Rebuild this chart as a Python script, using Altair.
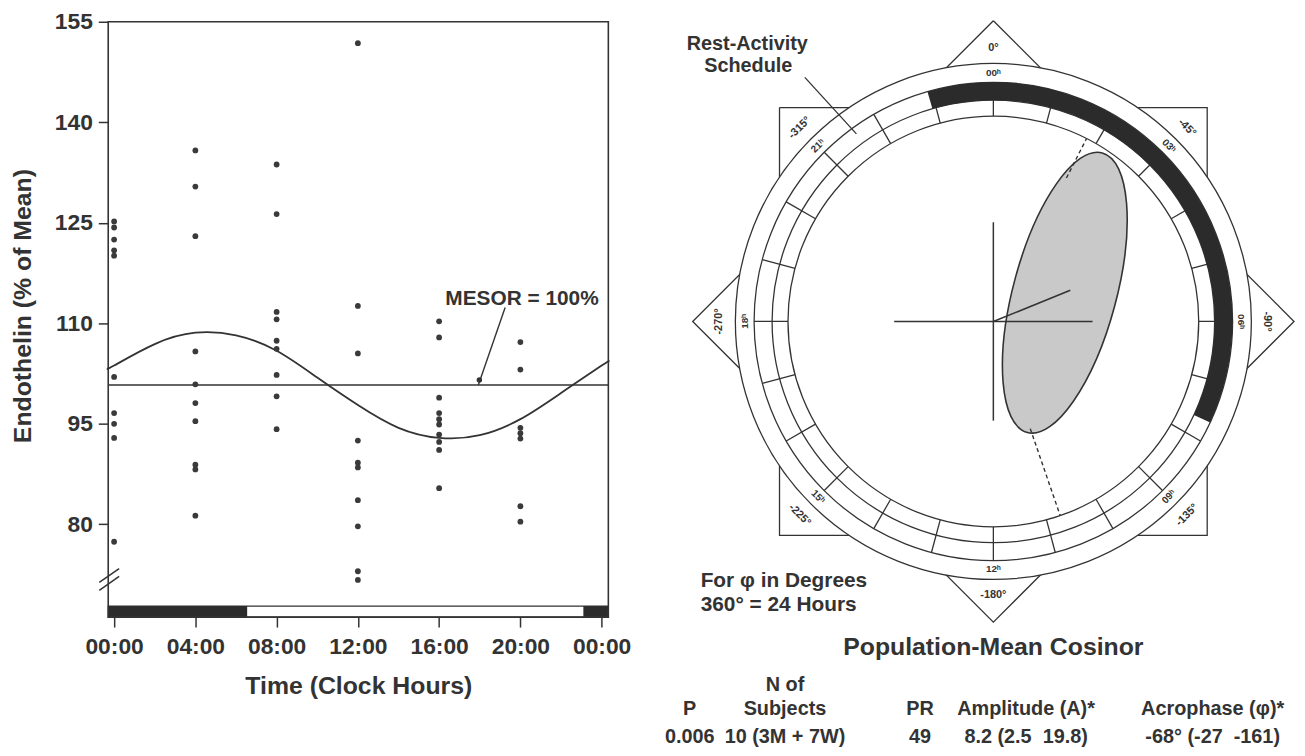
import math
import altair as alt
import pandas as pd

FONT = "Liberation Sans"
INK = "#333333"
DOT = "#3a3a3a"

# ---------------- Left panel data ----------------
SAMPLE_HOURS = [0, 4, 8, 12, 16, 20]
VALUES_0000 = [125.2, 124.3, 122.5, 120.9, 120.1, 102.0, 96.6, 95.0, 92.9, 77.4]
VALUES_0400 = [135.8, 130.4, 123.0, 105.8, 100.9, 98.1, 95.4, 88.9, 88.2, 81.3]
VALUES_0800 = [133.7, 126.3, 111.7, 110.6, 107.4, 106.2, 102.3, 99.1, 94.2]
VALUES_1200 = [151.8, 112.6, 105.5, 92.5, 89.2, 88.5, 83.6, 79.7, 73.0, 71.7]
VALUES_1600 = [110.3, 107.9, 98.9, 96.6, 95.7, 94.9, 93.4, 92.3, 91.1, 85.4]
VALUES_2000 = [107.2, 103.1, 94.4, 93.6, 92.8, 82.7, 80.4]

FIT_HOURS = [-0.29, 0, 2, 4, 6, 8, 10, 12, 14, 16, 18, 20, 22, 24, 24.33]
FIT_VALUES = [103.3, 103.7, 106.9, 108.6, 108.2, 105.9, 101.9, 97.8, 94.4,
              92.9, 93.3, 95.7, 99.6, 103.7, 104.3]
MESOR_VALUE = 100.8

REST_START_H = [-0.29, 23.1]
REST_END_H = [6.55, 24.33]

X_TICKS = [0, 4, 8, 12, 16, 20, 24]
Y_TICKS = [80, 95, 110, 125, 140, 155]

# ---------------- Right panel data ----------------
AMPLITUDE = 8.2
ACROPHASE_DEG = -68
ACRO_CI_DEG = [-27, -161]
ACRO_CI_START_R = [15.9, 11.2]
CROSS_ARM = 9.8
RING_R = [20.29, 21.86, 23.63, 25.49]
REST_ARC_DEG = [-16, 115]
ELLIPSE_CENTER = [7.06, 2.84]
ELLIPSE_SEMI = [14.3, 5.1]
ELLIPSE_TILT_DEG = 15

COMPASS_DEG = [0, 45, 90, 135, 180, 225, 270, 315]
DEG_LABELS = ["0°", "-45°", "-90°", "-135°", "-180°", "-225°", "-270°", "-315°"]
HOUR_LABELS = ["00ʰ", "03ʰ", "06ʰ", "09ʰ", "12ʰ", "15ʰ", "18ʰ", "21ʰ"]

NB = "\u00a0"
TABLE_TOP = ["", "N of", "", "", ""]
TABLE_HEAD = ["P", "Subjects", "PR", "Amplitude (A)*", "Acrophase (φ)*"]
TABLE_ROW = ["0.006", "10 (3M + 7W)", "49", f"8.2 (2.5{NB}{NB}19.8)", f"-68° (-27{NB}{NB}-161)"]

# ---------------- Layout constants (pixels) ----------------
LV_X0, LV_Y0, LW, LH = 108, 20, 504, 600
X_DOMAIN = [-0.29, 24.33]
Y_DOMAIN = [66.15, 155]
BAR_TOP = 67.81

K = 10.2                      # px per amplitude unit in the cosinor
CX, CY = 1000, 322            # page position of cosinor origin
RV_X0, RV_Y0, RW, RH = 682, 20, 620, 720
SPACING = RV_X0 - (LV_X0 + LW)
DIAMOND = 303 / K
SQUARE = 215.5 / K
R_DEG_LABEL = 276 / K
R_HOUR_LABEL = 250 / K


def lpos(px, py):
    return px - LV_X0, py - LV_Y0


def rpos(px, py):
    return px - RV_X0, py - RV_Y0


def polar(r, deg):
    a = math.radians(deg)
    return r * math.sin(a), r * math.cos(a)


# ====================== LEFT PANEL ======================
pts = []
for h, vals in zip(SAMPLE_HOURS, [VALUES_0000, VALUES_0400, VALUES_0800,
                                  VALUES_1200, VALUES_1600, VALUES_2000]):
    pts += [{"hour": h, "val": v} for v in vals]
pts = pd.DataFrame(pts)
fit = pd.DataFrame({"hour": FIT_HOURS, "val": FIT_VALUES})

xs = alt.Scale(domain=X_DOMAIN, nice=False, zero=False)
ys = alt.Scale(domain=Y_DOMAIN, nice=False, zero=False)
x_axis = alt.Axis(values=X_TICKS, title="Time (Clock Hours)", domain=False, grid=False,
                  labelExpr="(datum.value % 24 < 10 ? '0' : '') + (datum.value % 24) + ':00'",
                  tickSize=10, tickWidth=1.5, tickColor=INK, labelFont=FONT,
                  labelFontSize=23, labelFontWeight="bold", labelColor=INK,
                  labelPadding=9, labelFlush=False, labelOverlap=False,
                  titleFont=FONT, titleFontSize=25, titleFontWeight="bold",
                  titleColor=INK, titlePadding=15)
y_axis = alt.Axis(values=Y_TICKS, title="Endothelin (% of Mean)", domain=False, grid=False,
                  tickSize=10, tickWidth=1.5, tickColor=INK, labelFont=FONT,
                  labelFontSize=23, labelFontWeight="bold", labelColor=INK,
                  labelPadding=6, labelFlush=False, labelOverlap=False,
                  titleFont=FONT, titleFontSize=25, titleFontWeight="bold",
                  titleColor=INK, titlePadding=19, titleY=286)


def LX(f):
    return alt.X(f, type="quantitative", scale=xs, axis=x_axis)


def LY(f):
    return alt.Y(f, type="quantitative", scale=ys, axis=y_axis)


bar_df = pd.DataFrame({"s": [X_DOMAIN[0]], "e": [X_DOMAIN[1]],
                       "lo": [Y_DOMAIN[0]], "hi": [BAR_TOP]})
rest_df = pd.DataFrame({"s": REST_START_H, "e": REST_END_H,
                        "lo": [Y_DOMAIN[0]] * 2, "hi": [BAR_TOP] * 2})

bar = alt.Chart(bar_df).mark_rect(fill="white", stroke=INK, strokeWidth=1.3).encode(
    x=LX("s"), x2=alt.X2("e"), y=LY("lo"), y2=alt.Y2("hi"))
rest = alt.Chart(rest_df).mark_rect(fill="#2c2c2c").encode(
    x=LX("s"), x2=alt.X2("e"), y=LY("lo"), y2=alt.Y2("hi"))
fit_line = alt.Chart(fit).mark_line(interpolate="natural", color=INK, strokeWidth=1.8).encode(
    x=LX("hour"), y=LY("val"))
mesor = alt.Chart(pd.DataFrame({"m": [MESOR_VALUE]})).mark_rule(color=INK, strokeWidth=1.6).encode(
    y=LY("m"))
scatter = alt.Chart(pts).mark_circle(size=34, color=DOT, opacity=1).encode(
    x=LX("hour"), y=LY("val"))

one = pd.DataFrame({"a": [0]})
frame = alt.Chart(one).mark_rect(fillOpacity=0, stroke=INK, strokeWidth=1.6).encode(
    x=alt.value(0), x2=alt.value(LW), y=alt.value(0), y2=alt.value(LH))

mx, my = lpos(525, 299)
mesor_text = alt.Chart(one).mark_text(text="MESOR = 100%", font=FONT, fontSize=21,
                                      fontWeight="bold", color=INK).encode(
    x=alt.value(mx), y=alt.value(my))
p1 = lpos(508, 308)
p2 = lpos(481, 386)
mesor_ptr = alt.Chart(one).mark_rule(color=INK, strokeWidth=1.4).encode(
    x=alt.value(p1[0]), y=alt.value(p1[1]), x2=alt.value(p2[0]), y2=alt.value(p2[1]))
pd_ = lpos(482, 381)
mesor_dot = alt.Chart(one).mark_circle(size=30, color=INK, opacity=1).encode(
    x=alt.value(pd_[0]), y=alt.value(pd_[1]))

brk = []
for (a, b) in [((99, 585), (119, 571)), ((99, 593), (119, 579))]:
    q1, q2 = lpos(*a), lpos(*b)
    brk.append(alt.Chart(one).mark_rule(color=INK, strokeWidth=1.5).encode(
        x=alt.value(q1[0]), y=alt.value(q1[1]), x2=alt.value(q2[0]), y2=alt.value(q2[1])))

left = alt.layer(bar, rest, fit_line, mesor, scatter, frame, mesor_text, mesor_ptr,
                 mesor_dot, *brk).properties(width=LW, height=LH)

# ====================== RIGHT PANEL ======================
rxs = alt.Scale(domain=[(RV_X0 - CX) / K, (RV_X0 + RW - CX) / K], nice=False, zero=False)
rys = alt.Scale(domain=[(CY - RV_Y0 - RH) / K, (CY - RV_Y0) / K], nice=False, zero=False)
rrs = alt.Scale(type="linear", domain=[0, 30], range=[0, 30 * K], zero=True, nice=False)


def RX(f):
    return alt.X(f, type="quantitative", scale=rxs, axis=None)


def RY(f):
    return alt.Y(f, type="quantitative", scale=rys, axis=None)


# star outline: diamond and square
poly = []
for i, (vx, vy) in enumerate([(0, DIAMOND), (DIAMOND, 0), (0, -DIAMOND), (-DIAMOND, 0), (0, DIAMOND)]):
    poly.append({"shape": "diamond", "o": i, "x": vx, "y": vy})
for i, (vx, vy) in enumerate([(-SQUARE, SQUARE), (SQUARE, SQUARE), (SQUARE, -SQUARE),
                              (-SQUARE, -SQUARE), (-SQUARE, SQUARE)]):
    poly.append({"shape": "square", "o": i, "x": vx, "y": vy})
poly = pd.DataFrame(poly)
star = alt.Chart(poly).mark_line(color=INK, strokeWidth=1.3).encode(
    x=RX("x"), y=RY("y"), order=alt.Order("o:Q"), detail="shape:N")

TAU = 2 * math.pi
disc_df = pd.DataFrame({"cx": [0], "cy": [0], "t0": [0], "t1": [TAU], "r": [RING_R[3]]})
disc = alt.Chart(disc_df).mark_arc(fill="white").encode(
    x=RX("cx"), y=RY("cy"), theta=alt.Theta("t0:Q", scale=None), theta2=alt.Theta2("t1"),
    radius=alt.Radius("r:Q", scale=rrs))

rings_df = pd.DataFrame({"cx": [0] * 4, "cy": [0] * 4, "t0": [0] * 4, "t1": [TAU] * 4, "r": RING_R})
rings = alt.Chart(rings_df).mark_arc(fillOpacity=0, stroke=INK, strokeWidth=1.3).encode(
    x=RX("cx"), y=RY("cy"), theta=alt.Theta("t0:Q", scale=None), theta2=alt.Theta2("t1"),
    radius=alt.Radius("r:Q", scale=rrs))

ticks = []
for d in range(0, 360, 15):
    x1, y1 = polar(RING_R[0], d)
    x2, y2 = polar(RING_R[2], d)
    ticks.append({"x": x1, "y": y1, "x2": x2, "y2": y2})
ticks = pd.DataFrame(ticks)
tick_layer = alt.Chart(ticks).mark_rule(color=INK, strokeWidth=1.3).encode(
    x=RX("x"), y=RY("y"), x2=alt.X2("x2"), y2=alt.Y2("y2"))

rest_arc_df = pd.DataFrame({"cx": [0], "cy": [0],
                            "t0": [math.radians(REST_ARC_DEG[0])],
                            "t1": [math.radians(REST_ARC_DEG[1])],
                            "ro": [RING_R[2]], "ri": [RING_R[1]]})
rest_arc = alt.Chart(rest_arc_df).mark_arc(fill="#2b2b2b").encode(
    x=RX("cx"), y=RY("cy"), theta=alt.Theta("t0:Q", scale=None), theta2=alt.Theta2("t1"),
    radius=alt.Radius("ro:Q", scale=rrs), radius2=alt.Radius2("ri"))

ratio = ELLIPSE_SEMI[1] / ELLIPSE_SEMI[0]
ELLIPSE_PATH = f"M0,-1A{ratio:.4f},1,0,1,1,0,1A{ratio:.4f},1,0,1,1,0,-1Z"
ell_df = pd.DataFrame({"x": [ELLIPSE_CENTER[0]], "y": [ELLIPSE_CENTER[1]]})
ellipse = alt.Chart(ell_df).mark_point(
    shape=ELLIPSE_PATH, filled=True, fill="#c9c9c9", stroke=INK, strokeWidth=1.6,
    opacity=1, size=(2 * ELLIPSE_SEMI[0] * K) ** 2, angle=ELLIPSE_TILT_DEG).encode(
    x=RX("x"), y=RY("y"))

cross_df = pd.DataFrame({"x": [-CROSS_ARM, 0], "y": [0, -CROSS_ARM],
                         "x2": [CROSS_ARM, 0], "y2": [0, CROSS_ARM]})
cross = alt.Chart(cross_df).mark_rule(color=INK, strokeWidth=1.5).encode(
    x=RX("x"), y=RY("y"), x2=alt.X2("x2"), y2=alt.Y2("y2"))

vx, vy = polar(AMPLITUDE, -ACROPHASE_DEG)
vec_df = pd.DataFrame({"x": [0], "y": [0], "x2": [vx], "y2": [vy]})
vector = alt.Chart(vec_df).mark_rule(color=INK, strokeWidth=1.6).encode(
    x=RX("x"), y=RY("y"), x2=alt.X2("x2"), y2=alt.Y2("y2"))

dash = []
for d, r0 in zip(ACRO_CI_DEG, ACRO_CI_START_R):
    a1 = polar(r0, -d)
    a2 = polar(RING_R[0], -d)
    dash.append({"x": a1[0], "y": a1[1], "x2": a2[0], "y2": a2[1]})
dash = pd.DataFrame(dash)
dashed = alt.Chart(dash).mark_rule(color=INK, strokeWidth=1.4, strokeDash=[4, 3]).encode(
    x=RX("x"), y=RY("y"), x2=alt.X2("x2"), y2=alt.Y2("y2"))

lab = []
for d, dl, hl in zip(COMPASS_DEG, DEG_LABELS, HOUR_LABELS):
    rot = d if (d <= 90 or d >= 270) else d - 180
    rot %= 360
    x1, y1 = polar(R_DEG_LABEL, d)
    x2, y2 = polar(R_HOUR_LABEL, d)
    lab.append({"x": x1, "y": y1, "t": dl, "rot": rot, "k": "deg"})
    lab.append({"x": x2, "y": y2, "t": hl, "rot": rot, "k": "hour"})
lab = pd.DataFrame(lab)
deg_labels = alt.Chart(lab[lab.k == "deg"]).mark_text(
    font=FONT, fontSize=11, fontWeight="bold", color=INK, baseline="middle").encode(
    x=RX("x"), y=RY("y"), text="t:N", angle=alt.Angle("rot:Q", scale=None))
hour_labels = alt.Chart(lab[lab.k == "hour"]).mark_text(
    font=FONT, fontSize=10, fontWeight="bold", color=INK, baseline="middle").encode(
    x=RX("x"), y=RY("y"), text="t:N", angle=alt.Angle("rot:Q", scale=None))


def rtext(txt, px, py, size=20, align="center"):
    vx_, vy_ = rpos(px, py)
    return alt.Chart(one).mark_text(text=txt, font=FONT, fontSize=size, fontWeight="bold",
                                    color=INK, align=align, baseline="middle").encode(
        x=alt.value(vx_), y=alt.value(vy_))


notes = [
    rtext("Rest-Activity", 752, 42, 20),
    rtext("Schedule", 753, 65, 20),
    rtext("For φ in Degrees", 705, 584, 21, "left"),
    rtext("360° = 24 Hours", 705, 608, 21, "left"),
    rtext("Population-Mean Cosinor", 1000, 650, 25),
]
COL_X = [694, 790, 926, 1033, 1221]
for txt, cx_ in zip(TABLE_TOP, COL_X):
    if txt:
        notes.append(rtext(txt, cx_, 688, 20))
for txt, cx_ in zip(TABLE_HEAD, COL_X):
    notes.append(rtext(txt, cx_, 713, 20))
for txt, cx_ in zip(TABLE_ROW, COL_X):
    notes.append(rtext(txt, cx_, 741, 20))

a1 = rpos(810, 76)
a2 = rpos(862, 133)
ra_ptr = alt.Chart(one).mark_rule(color=INK, strokeWidth=1.3).encode(
    x=alt.value(a1[0]), y=alt.value(a1[1]), x2=alt.value(a2[0]), y2=alt.value(a2[1]))

right = alt.layer(star, disc, ellipse, rings, tick_layer, rest_arc, cross, vector, dashed,
                  deg_labels, hour_labels, ra_ptr, *notes).properties(width=RW, height=RH)

chart = alt.hconcat(left, right, spacing=SPACING, bounds="flush").properties(
    padding={"left": 2, "top": 0, "right": 0, "bottom": 0}
).configure(font=FONT).configure_view(strokeWidth=0)

chart.save("out.html", embed_options={"renderer": "svg", "actions": False})
